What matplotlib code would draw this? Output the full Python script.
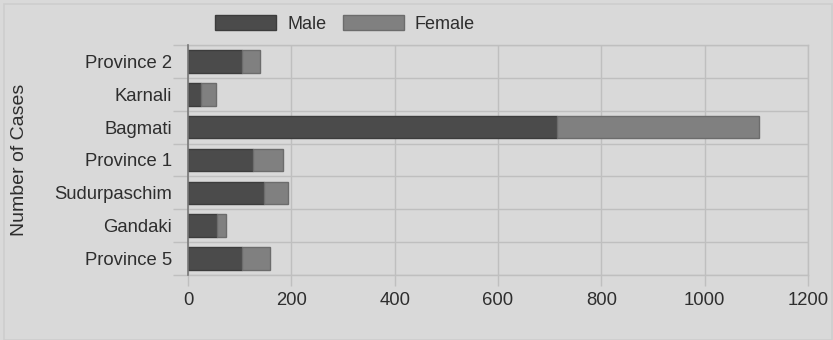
import numpy as np
import matplotlib
matplotlib.use("Agg")
import matplotlib.pyplot as plt
from matplotlib.patches import Rectangle

plt.rcParams['font.family'] = ['Liberation Sans', 'DejaVu Sans']

# Data
provinces = ["Province 2", "Karnali", "Bagmati", "Province 1",
             "Sudurpaschim", "Gandaki", "Province 5"]
male = [104, 25, 715, 126, 148, 57, 104]
female = [36, 29, 391, 58, 45, 16, 54]
x_ticks = [0, 200, 400, 600, 800, 1000, 1200]

BG = "#d9d9d9"
GRID = "#bfbfbf"
MALE_C = "#4b4b4b"
FEMALE_C = "#808080"
TEXT_C = "#2e2e2e"

W, H = 833, 340
fig = plt.figure(figsize=(W / 100, H / 100), dpi=100, facecolor=BG)
ax = fig.add_axes([188 / W, 1 - 275 / H, 620 / W, 230 / H])
ax.set_facecolor(BG)

# subtle card outline
fig.patches.append(Rectangle((4 / W, 0), 1 - 5 / W, 1 - 4 / H, transform=fig.transFigure,
                             fill=False, edgecolor="#cdcdcd", linewidth=1.2, zorder=0))

y = np.arange(len(provinces))
h = 0.69
ax.barh(y, male, height=h, color=MALE_C, edgecolor="#3c3c3c", linewidth=1, label="Male", zorder=3)
ax.barh(y, female, left=male, height=h, color=FEMALE_C, edgecolor="#6c6c6c", linewidth=1,
        label="Female", zorder=3)

ax.set_ylim(len(provinces) - 0.5, -0.5)
ax.set_xlim(0, 1200)

# category ticks with gridlines between rows
ax.set_yticks(y)
ax.set_yticklabels(provinces, fontsize=13.3, color=TEXT_C)
ax.set_yticks(np.arange(-0.5, len(provinces)), minor=True)
ax.tick_params(axis='y', which='major', length=0, pad=11.5)
ax.tick_params(axis='y', which='minor', length=11, width=1, color=GRID)
ax.grid(axis='y', which='minor', color=GRID, linewidth=1, zorder=0)

ax.set_xticks(x_ticks)
ax.set_xticklabels([str(v) for v in x_ticks], fontsize=13.3, color=TEXT_C)
ax.tick_params(axis='x', which='major', length=8, width=1, color=GRID, pad=4)
ax.grid(axis='x', which='major', color=GRID, linewidth=1, zorder=0)

for side in ["top", "right", "bottom"]:
    ax.spines[side].set_color(GRID)
    ax.spines[side].set_linewidth(1)
ax.spines["left"].set_color("#777777")
ax.spines["left"].set_linewidth(1.2)
ax.spines["left"].set_zorder(4)

fig.text(20 / W, 1 - 160 / H, "Number of Cases", rotation=90, fontsize=14,
         color=TEXT_C, ha="center", va="center")

ax.legend(loc="center left", bbox_to_anchor=(206 / W, 1 - 24 / H), bbox_transform=fig.transFigure,
          ncol=2, frameon=False, fontsize=13, handlelength=3.4, handleheight=0.85,
          handletextpad=0.6, columnspacing=0.9, borderpad=0, labelcolor=TEXT_C)

fig.savefig("out.png", dpi=100, facecolor=BG)
